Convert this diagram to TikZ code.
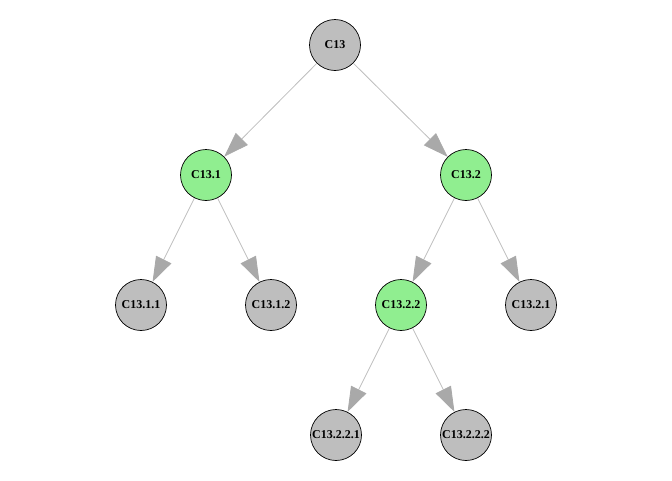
\documentclass[tikz,border=0pt]{standalone}
\usepackage{fontspec}
\setmainfont{Liberation Serif}
\usetikzlibrary{arrows.meta}
\definecolor{vgray}{HTML}{BEBEBE}
\definecolor{vgreen}{HTML}{90EE90}
\definecolor{egray}{HTML}{BEBEBE}
\definecolor{tgray}{HTML}{A9A9A9}
\begin{document}
\begin{tikzpicture}[x=1pt, y=-1pt,
  vtx/.style={circle, draw, line width=0.7pt, minimum size=51pt, inner sep=0pt, font=\fontsize{12}{14}\selectfont\bfseries},
  leaf/.style={vtx, fill=vgray},
  split/.style={vtx, fill=vgreen},
  edge/.style={draw=egray, line width=0.8pt, -{Triangle[length=25pt, width=17pt, color=tgray]}}]
\useasboundingbox (0,0) rectangle (672,480);
\node[leaf] (c13) at (335,45){C13};
\node[split] (c131) at (206,175){C13.1};
\node[leaf] (c1311) at (141,305){C13.1.1};
\node[leaf] (c1312) at (271,305){C13.1.2};
\draw[edge](c131) -- (c1311);
\draw[edge](c131) -- (c1312);
\node[split] (c132) at (466,175){C13.2};
\node[split] (c1322) at (401,305){C13.2.2};
\node[leaf] (c1321) at (531,305){C13.2.1};
\draw[edge](c132) -- (c1322);
\draw[edge](c132) -- (c1321);
\node[leaf] (c13221) at (336,435){C13.2.2.1};
\node[leaf] (c13222) at (466,435){C13.2.2.2};
\draw[edge](c1322) -- (c13221);
\draw[edge](c1322) -- (c13222);
\draw[edge](c13) -- (c131);
\draw[edge](c13) -- (c132);

\end{tikzpicture}
\end{document}
